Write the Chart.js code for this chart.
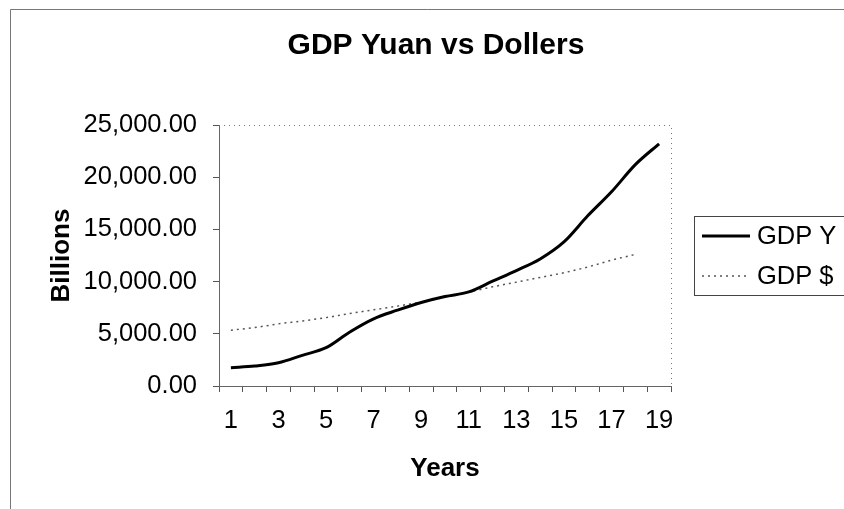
<!DOCTYPE html>
<html>
<head>
<meta charset="utf-8">
<title>GDP Yuan vs Dollers</title>
<script src="https://cdn.jsdelivr.net/npm/chart.js@4.4.1/dist/chart.umd.min.js"></script>
<style>
  html, body { margin: 0; padding: 0; background: #fff; }
  #wrap { width: 844px; height: 509px; }
</style>
</head>
<body>
<div id="wrap"><canvas id="gdpChart" width="844" height="509"></canvas></div>
<script>
// Data
const years = ['1', '2', '3', '4', '5', '6', '7', '8', '9', '10',
               '11', '12', '13', '14', '15', '16', '17', '18', '19'];
const gdpYuan = [1750, 1910, 2220, 2940, 3670, 5180, 6440, 7260, 8000, 8570,
                 9010, 10040, 11060, 12170, 13800, 16300, 18600, 21200, 23200];
const gdpDollar = [5340, 5600, 5950, 6230, 6550, 6940, 7300, 7650, 8050, 8500,
                   9000, 9500, 9950, 10400, 10850, 11400, 12050, 12600, null];
const yTicks = [0, 5000, 10000, 15000, 20000, 25000];

const FONT = '"Liberation Sans", Arial, sans-serif';

// Outer frame plus dotted plot area border (top and right)
const framePlugin = {
  id: 'frame',
  beforeDraw: function(chart) {
    const ctx = chart.ctx;
    ctx.save();
    ctx.fillStyle = '#fff';
    ctx.fillRect(0, 0, chart.width, chart.height);
    ctx.strokeStyle = '#777';
    ctx.lineWidth = 1;
    ctx.beginPath();
    ctx.moveTo(10.5, chart.height);
    ctx.lineTo(10.5, 9.5);
    ctx.lineTo(chart.width, 9.5);
    ctx.stroke();
    ctx.restore();
  },
  afterDatasetsDraw: function(chart) {
    const a = chart.chartArea;
    const ctx = chart.ctx;
    ctx.save();
    ctx.strokeStyle = '#777';
    ctx.lineWidth = 1;
    ctx.setLineDash([1, 4]);
    ctx.beginPath();
    ctx.moveTo(a.left, a.top + 0.5);
    ctx.lineTo(a.right + 0.5, a.top + 0.5);
    ctx.lineTo(a.right + 0.5, a.bottom);
    ctx.stroke();
    ctx.restore();
  }
};

// Boxed legend on the right, like the spreadsheet one
const boxLegendPlugin = {
  id: 'boxLegend',
  afterDraw: function(chart) {
    const ctx = chart.ctx;
    const left = 694, top = 216, bottom = 295;
    ctx.save();
    ctx.strokeStyle = '#444';
    ctx.lineWidth = 1;
    ctx.strokeRect(left + 0.5, top + 0.5, chart.width, bottom - top);
    chart.data.datasets.forEach(function(ds, i) {
      const y = 236 + i * 40;
      ctx.beginPath();
      ctx.strokeStyle = ds.borderColor;
      ctx.lineWidth = ds.borderWidth;
      ctx.setLineDash(ds.borderDash || []);
      ctx.moveTo(702, y);
      ctx.lineTo(750, y);
      ctx.stroke();
      ctx.setLineDash([]);
      ctx.fillStyle = '#000';
      ctx.font = '25.5px ' + FONT;
      ctx.textBaseline = 'middle';
      ctx.textAlign = 'left';
      ctx.fillText(ds.label, 757, y + 1);
    });
    ctx.restore();
  }
};

new Chart(document.getElementById('gdpChart').getContext('2d'), {
  type: 'line',
  data: {
    labels: years,
    datasets: [
      {
        label: 'GDP Y',
        data: gdpYuan,
        borderColor: '#000',
        borderWidth: 3,
        pointRadius: 0,
        cubicInterpolationMode: 'monotone',
        fill: false
      },
      {
        label: 'GDP $',
        data: gdpDollar,
        borderColor: '#555',
        borderWidth: 1.5,
        borderDash: [2, 4],
        pointRadius: 0,
        cubicInterpolationMode: 'monotone',
        fill: false
      }
    ]
  },
  options: {
    responsive: false,
    animation: false,
    layout: { padding: { left: 28, right: 0, top: 0, bottom: 0 } },
    plugins: {
      legend: { display: false },
      tooltip: { enabled: false },
      title: {
        display: true,
        text: 'GDP Yuan vs Dollers',
        color: '#000',
        font: { family: FONT, size: 30, weight: 'bold' },
        padding: { top: 28, bottom: 61 }
      }
    },
    scales: {
      x: {
        type: 'category',
        offset: true,
        grid: { display: true, offset: true, drawOnChartArea: false, tickLength: 6, color: '#555' },
        border: { display: true, color: '#666', dash: [2, 3] },
        ticks: {
          autoSkip: false,
          maxRotation: 0,
          padding: 14,
          color: '#000',
          font: { family: FONT, size: 25.5 },
          callback: function(value, index) {
            return index % 2 === 0 ? this.getLabelForValue(value) : '';
          }
        },
        title: {
          display: true,
          text: 'Years',
          color: '#000',
          font: { family: FONT, size: 26, weight: 'bold' },
          padding: { top: 0, bottom: 25 }
        },
        afterFit: function(scale) { scale.height = 509 - 386; }
      },
      y: {
        min: yTicks[0],
        max: yTicks[yTicks.length - 1],
        grid: { display: true, drawOnChartArea: false, tickLength: 6, color: '#555' },
        border: { display: true, color: '#666', dash: [2, 3] },
        afterBuildTicks: function(scale) {
          scale.ticks = yTicks.map(function(v) { return { value: v }; });
        },
        ticks: {
          padding: 16,
          color: '#000',
          font: { family: FONT, size: 25.5 },
          callback: function(value) {
            return value.toLocaleString('en-US', { minimumFractionDigits: 2, maximumFractionDigits: 2 });
          }
        },
        title: {
          display: true,
          text: 'Billions',
          color: '#000',
          font: { family: FONT, size: 26, weight: 'bold' },
          padding: { top: 18, bottom: 0 }
        },
        afterFit: function(scale) { scale.width = 219 - 28; }
      },
      // empty axis on the right only reserves room for the legend box
      yRight: {
        position: 'right',
        display: true,
        grid: { display: false },
        border: { display: false },
        ticks: { display: false },
        afterFit: function(scale) { scale.width = 844 - 671; }
      }
    }
  },
  plugins: [framePlugin, boxLegendPlugin]
});
</script>
</body>
</html>
